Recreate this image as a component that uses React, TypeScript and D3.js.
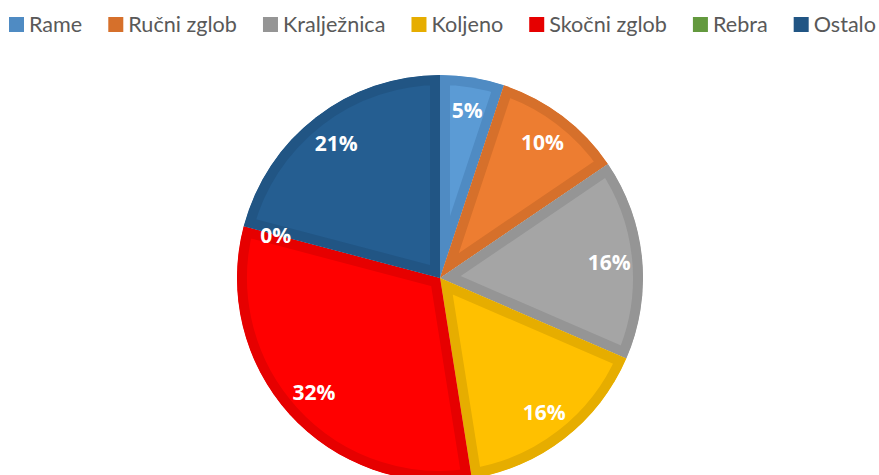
import React, { useMemo } from "react";
import * as d3 from "d3";

const categories = ["Rame", "Ručni zglob", "Kralježnica", "Koljeno", "Skočni zglob", "Rebra", "Ostalo"];
const values = [5.1, 10.4, 16.0, 16.0, 31.6, 0, 20.9];
const colors = ["#5B9BD5", "#ED7D31", "#A5A5A5", "#FFC000", "#FF0000", "#70AD47", "#255E91"];
const borderColors = ["#4F8BC3", "#D6702B", "#959595", "#E6AD00", "#E60000", "#63993E", "#215584"];

const W = 879;
const H = 475;
const LEGEND_FAMILY = "Lato";
const BASE_SIZE = 22;

function measure(text: string, font: string): number {
  const c = document.createElement("canvas");
  const ctx = c.getContext("2d")!;
  ctx.font = font;
  return ctx.measureText(text).width;
}

export default function App() {
  const cx = 440;
  const cy = 278;
  const R = 203;
  const total = d3.sum(values);
  const pie = d3.pie<number>().sort(null).value((d) => d)(values);
  const arc = d3.arc<d3.PieArcDatum<number>>().innerRadius(0).outerRadius(R);
  const labelArc = d3.arc<d3.PieArcDatum<number>>().innerRadius(170).outerRadius(170);
  const fmt = d3.format(".0%");

  const legend = useMemo(() => {
    const sq = 15, gapIn = 5, gapOut = 26;
    const left = 9, right = 876;
    const baseW = categories.map((c) => measure(c, `${BASE_SIZE}px ${LEGEND_FAMILY}`));
    const avail = right - left - categories.length * (sq + gapIn) - (categories.length - 1) * gapOut;
    const size = Math.min(BASE_SIZE, (BASE_SIZE * avail) / d3.sum(baseW));
    const widths = baseW.map((w) => (w * size) / BASE_SIZE);
    const totalW = d3.sum(widths) + categories.length * (sq + gapIn) + (categories.length - 1) * gapOut;
    let x = (left + right) / 2 - totalW / 2;
    const items = categories.map((c, i) => {
      const item = { x, label: c, color: borderColors[i] };
      x += sq + gapIn + widths[i] + gapOut;
      return item;
    });
    return { items, size };
  }, []);

  return (
    <svg width={W} height={H} style={{ position: "absolute", left: 0, top: 0, background: "#fff" }}>
      <g transform={`translate(${cx},${cy})`}>
        <defs>
          {pie.map((p, i) => (
            <clipPath id={`clip${i}`} key={i}>
              <path d={arc(p) || ""} />
            </clipPath>
          ))}
        </defs>
        {pie.map((p, i) =>
          p.value > 0 ? (
            <path
              key={i}
              d={arc(p) || ""}
              fill={colors[i]}
              stroke={borderColors[i]}
              strokeWidth={20}
              strokeLinejoin="miter"
              clipPath={`url(#clip${i})`}
            />
          ) : null
        )}
        {pie.map((p, i) => {
          const [lx, ly] = labelArc.centroid(p);
          return (
            <text
              key={`t${i}`}
              x={lx}
              y={ly}
              textAnchor="middle"
              dominantBaseline="central"
              fill="#fff"
              fontFamily="'Open Sans'"
              fontWeight={700}
              fontSize={21}
            >
              {fmt(p.value / total)}
            </text>
          );
        })}
      </g>
      <g>
        {legend.items.map((l, i) => (
          <g key={i}>
            <rect x={l.x} y={17} width={15} height={15} fill={l.color} />
            <text x={l.x + 20} y={32} fontFamily={LEGEND_FAMILY} fontSize={legend.size} fill="#595959">
              {l.label}
            </text>
          </g>
        ))}
      </g>
    </svg>
  );
}
